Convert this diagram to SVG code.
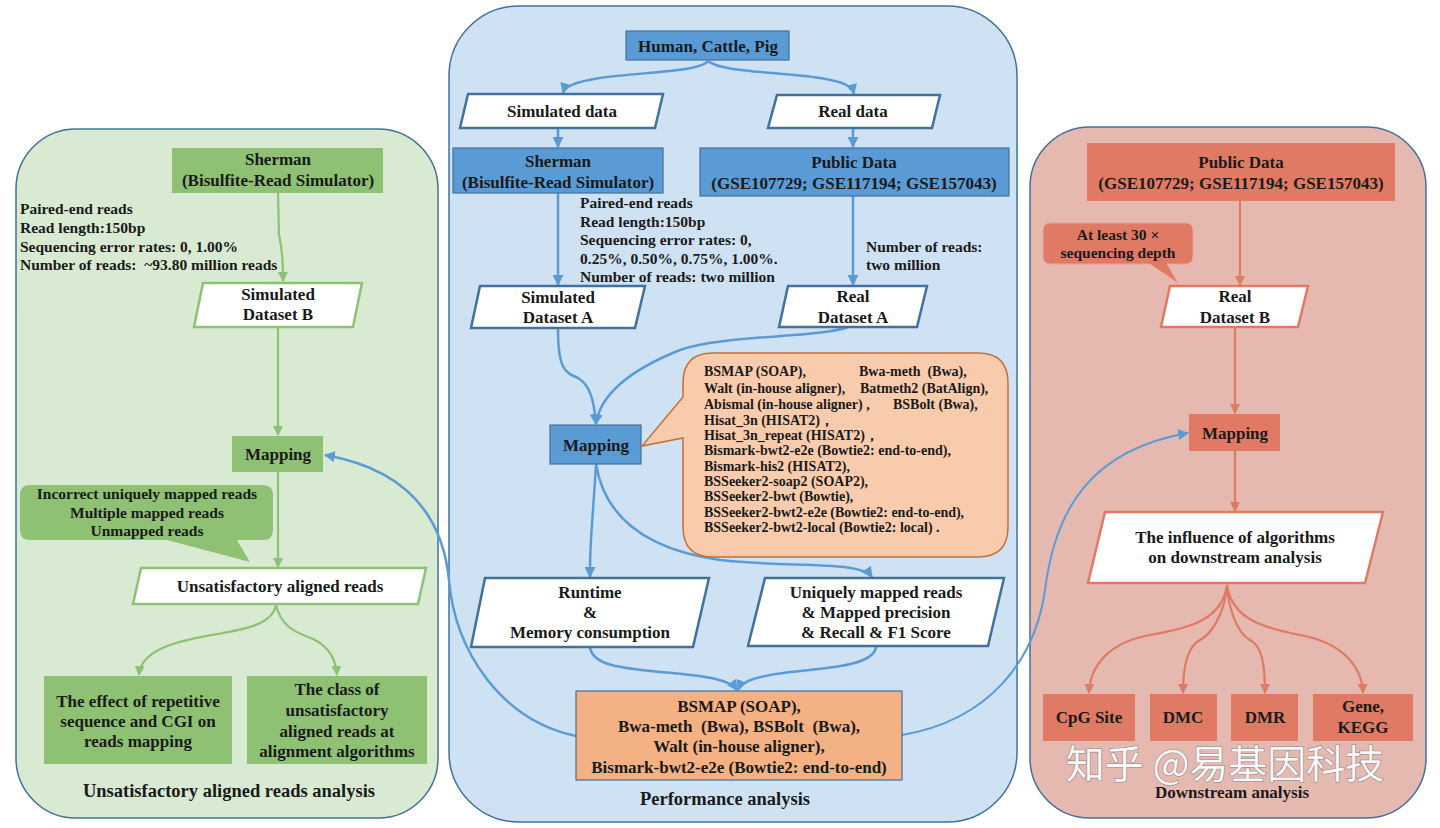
<svg xmlns="http://www.w3.org/2000/svg" width="1440" height="828" viewBox="0 0 1440 828">
<defs>
<marker id="ag" viewBox="0 0 10 10" refX="9" refY="5" markerWidth="10" markerHeight="10" markerUnits="userSpaceOnUse" orient="auto"><path d="M0,0 L10,5 L0,10 z" fill="#8fc175"/></marker>
<marker id="ab" viewBox="0 0 10 10" refX="9" refY="5" markerWidth="11" markerHeight="11" markerUnits="userSpaceOnUse" orient="auto"><path d="M0,0 L10,5 L0,10 z" fill="#5b9bd5"/></marker>
<marker id="ar" viewBox="0 0 10 10" refX="9" refY="5" markerWidth="10" markerHeight="10" markerUnits="userSpaceOnUse" orient="auto"><path d="M0,0 L10,5 L0,10 z" fill="#e07a64"/></marker>
</defs>
<style>
text{font-family:"Liberation Serif","Times New Roman",serif;font-weight:bold;fill:#1a1a1a;}
.t16{font-size:17px;text-anchor:middle;}
.t15{font-size:17px;text-anchor:middle;}
.ttl{font-size:18.5px;text-anchor:middle;}
.t13{font-size:14px;}
.nt{font-size:15.5px;}
.panel{stroke:#41719c;stroke-width:1.5;}
.gn{fill:#8fc175;}
.gp{fill:#fff;stroke:#8fc175;stroke-width:2.5;}
.bn{fill:#5b9bd5;stroke:#41719c;stroke-width:1.2;}
.bp{fill:#fff;stroke:#41719c;stroke-width:2.5;}
.rn{fill:#e07a64;}
.rp{fill:#fff;stroke:#e07a64;stroke-width:2.5;}
.lg{fill:none;stroke:#8fc175;stroke-width:2.2;marker-end:url(#ag);}
.lb{fill:none;stroke:#5b9bd5;stroke-width:2.5;marker-end:url(#ab);}
.lr{fill:none;stroke:#e07a64;stroke-width:2.2;marker-end:url(#ar);}
</style>

<g id="panel-left"><rect class="panel" x="16" y="129" width="422" height="689" rx="60" fill="#d9ead3"/>
<text class="ttl" x="229" y="797">Unsatisfactory aligned reads analysis</text></g>
<g id="panel-middle"><rect class="panel" x="449" y="6" width="568" height="816" rx="70" fill="#cfe2f3"/>
<text class="ttl" x="725" y="805">Performance analysis</text></g>
<g id="panel-right"><rect class="panel" x="1030" y="127" width="396" height="691" rx="60" fill="#e6b9b0"/>
<text class="t16" x="1232" y="798">Downstream analysis</text></g>

<g id="connectors">
<path class="lg" d="M278,193 L279,235 C281,245 283,250 283,281"/>
<path class="lg" d="M278,327 L278,435"/>
<path class="lg" d="M278,472 L278,567"/>
<path class="lg" d="M276,605 C270,635 210,630 170,645 C150,652 140,662 139,675"/>
<path class="lg" d="M276,605 C282,630 300,633 315,640 C330,648 336,660 337,675"/>
<path class="lb" d="M708,61 C700,72 640,72 600,78 C575,82 565,86 563,93"/>
<path class="lb" d="M708,61 C720,72 780,72 820,78 C845,82 852,86 854,94"/>
<path class="lb" d="M558,128 L558,147"/>
<path class="lb" d="M853,128 L853,147"/>
<path class="lb" d="M558,193 L558,285"/>
<path class="lb" d="M853,196 L853,285"/>
<path class="lb" d="M558,328 C558,370 565,372 578,378 C590,385 594,400 596,424"/>
<path class="lb" d="M848,327 C820,338 720,335 680,350 C630,370 600,395 596,424"/>
<path class="lb" d="M596,464 C594,500 592,520 591,540 C590,555 590,565 590,577"/>
<path class="lb" d="M596,464 C605,520 650,550 720,560 C790,568 860,560 872,577"/>
<path class="lb" d="M590,647 C592,665 620,668 660,672 C710,676 730,680 737,690"/>
<path class="lb" d="M876,647 C874,665 830,668 790,672 C760,676 742,680 738,690"/>
<path class="lb" d="M576,736 C500,720 455,650 449,580 C443,520 410,470 325,455"/>
<path class="lb" d="M902,735 C990,720 1035,660 1045,590 C1055,510 1090,450 1188,433" style="stroke-width:2"/>
<path class="lr" d="M1240,201 L1240,285"/>
<path class="lr" d="M1235,327 L1235,413"/>
<path class="lr" d="M1235,451 L1235,511"/>
<path class="lr" d="M1227,585 C1222,620 1190,628 1150,635 C1110,642 1090,665 1089,693"/>
<path class="lr" d="M1227,585 C1225,615 1210,635 1200,640 C1188,646 1183,665 1183,693"/>
<path class="lr" d="M1227,585 C1229,615 1240,635 1250,640 C1262,646 1265,665 1265,693"/>
<path class="lr" d="M1227,585 C1232,620 1265,628 1300,635 C1340,642 1362,665 1363,693"/>
</g>

<g id="sherman-b"><rect class="gn" x="172" y="148" width="211" height="45"/>
<text class="t15" x="278" y="165">Sherman</text><text class="t15" x="278" y="186">(Bisulfite-Read Simulator)</text></g>
<g id="notes-b"><text class="nt" x="20" y="214">Paired-end reads</text><text class="nt" x="20" y="233">Read length:150bp</text><text class="nt" x="20" y="252">Sequencing error rates: 0, 1.00%</text><text class="nt" x="20" y="270" xml:space="preserve">Number of reads:  ~93.80 million reads</text></g>
<g id="sim-dataset-b"><polygon class="gp" points="203,283 362,283 353,327 194,327"/>
<text class="t16" x="278" y="300">Simulated</text><text class="t16" x="278" y="320">Dataset B</text></g>
<g id="mapping-b"><rect class="gn" x="232" y="436" width="91" height="36"/>
<text class="t16" x="278" y="460">Mapping</text></g>
<g id="callout-b"><path class="gn" d="M30,485 H263 Q273,485 273,495 V530 Q273,540 263,540 H237 L250,562 L167,540 H30 Q20,540 20,530 V495 Q20,485 30,485 Z"/>
<text class="nt" x="147" y="499" style="text-anchor:middle">Incorrect uniquely mapped reads</text><text class="nt" x="147" y="518" style="text-anchor:middle">Multiple mapped reads</text><text class="nt" x="147" y="536" style="text-anchor:middle">Unmapped reads</text></g>
<g id="unsatisfactory"><polygon class="gp" points="141,568 426,568 418,604 133,604"/>
<text class="t16" x="280" y="592">Unsatisfactory aligned reads</text></g>
<g id="effect"><rect class="gn" x="44" y="676" width="188" height="88"/>
<text class="t16" x="138" y="707">The effect of repetitive</text><text class="t16" x="138" y="727">sequence and CGI on</text><text class="t16" x="138" y="747">reads mapping</text></g>
<g id="class"><rect class="gn" x="247" y="676" width="180" height="88"/>
<text class="t16" x="337" y="695">The class of</text><text class="t16" x="337" y="716">unsatisfactory</text><text class="t16" x="337" y="737">aligned reads at</text><text class="t16" x="337" y="757">alignment algorithms</text></g>

<g id="species"><rect class="bn" x="626" y="31" width="163" height="29"/>
<text class="t15" x="708" y="52">Human, Cattle, Pig</text></g>
<g id="simulated-data"><polygon class="bp" points="468,94 663,94 655,128 460,128"/>
<text class="t15" x="562" y="117">Simulated data</text></g>
<g id="real-data"><polygon class="bp" points="777,95 940,95 932,128 768,128"/>
<text class="t15" x="853" y="117">Real data</text></g>
<g id="sherman-a"><rect class="bn" x="453" y="148" width="210" height="45"/>
<text class="t15" x="558" y="167">Sherman</text><text class="t15" x="558" y="188">(Bisulfite-Read Simulator)</text></g>
<g id="public-a"><rect class="bn" x="700" y="148" width="309" height="48"/>
<text class="t15" x="854" y="168">Public Data</text><text class="t15" x="854" y="189">(GSE107729; GSE117194; GSE157043)</text></g>
<g id="notes-a"><text class="nt" x="580" y="208">Paired-end reads</text><text class="nt" x="580" y="227">Read length:150bp</text><text class="nt" x="580" y="245">Sequencing error rates: 0,</text><text class="nt" x="580" y="264">0.25%, 0.50%, 0.75%, 1.00%.</text><text class="nt" x="580" y="282">Number of reads: two million</text></g>
<g id="notes-real-a"><text class="nt" x="866" y="252">Number of reads:</text><text class="nt" x="866" y="270">two million</text></g>
<g id="sim-dataset-a"><polygon class="bp" points="480,286 645,286 635,328 471,328"/>
<text class="t15" x="558" y="303">Simulated</text><text class="t15" x="558" y="323">Dataset A</text></g>
<g id="real-dataset-a"><polygon class="bp" points="788,286 927,286 917,327 779,327"/>
<text class="t15" x="853" y="302">Real</text><text class="t15" x="853" y="323">Dataset A</text></g>
<g id="mapping-a"><rect class="bn" x="550" y="425" width="91" height="39"/>
<text class="t16" x="596" y="451">Mapping</text></g>
<g id="aligners-callout"><path d="M713,353 H978 Q1008,353 1008,383 V527 Q1008,557 978,557 H713 Q683,557 683,527 V438 L642,446 L683,397 V383 Q683,353 713,353 Z" fill="#f8cbad" stroke="#c5703a" stroke-width="1.5"/>
<text class="t13" x="704" y="376">BSMAP (SOAP),</text><text class="t13" x="859" y="376" xml:space="preserve">Bwa-meth  (Bwa),</text>
<text class="t13" x="704" y="393">Walt (in-house aligner),</text><text class="t13" x="860" y="393">Batmeth2 (BatAlign),</text>
<text class="t13" x="704" y="409">Abismal (in-house aligner) ,</text><text class="t13" x="893" y="409">BSBolt (Bwa),</text>
<text class="t13" x="704" y="425">Hisat_3n (HISAT2)，</text>
<text class="t13" x="704" y="440">Hisat_3n_repeat (HISAT2)，</text>
<text class="t13" x="704" y="455">Bismark-bwt2-e2e (Bowtie2: end-to-end),</text>
<text class="t13" x="704" y="471">Bismark-his2 (HISAT2),</text>
<text class="t13" x="704" y="486">BSSeeker2-soap2 (SOAP2),</text>
<text class="t13" x="704" y="501">BSSeeker2-bwt (Bowtie),</text>
<text class="t13" x="704" y="517">BSSeeker2-bwt2-e2e (Bowtie2: end-to-end),</text>
<text class="t13" x="704" y="532">BSSeeker2-bwt2-local (Bowtie2: local) .</text></g>
<g id="runtime"><polygon class="bp" points="485,578 709,578 693,647 471,647"/>
<text class="t16" x="590" y="598">Runtime</text><text class="t16" x="590" y="618">&amp;</text><text class="t16" x="590" y="638">Memory consumption</text></g>
<g id="uniquely"><polygon class="bp" points="765,578 1004,578 988,646 748,646"/>
<text class="t16" x="876" y="598">Uniquely mapped reads</text><text class="t16" x="876" y="618">&amp; Mapped precision</text><text class="t16" x="876" y="638">&amp; Recall &amp; F1 Score</text></g>
<g id="best-aligners"><rect x="576" y="691" width="326" height="89" fill="#f4b183" stroke="#41719c" stroke-width="1.2"/>
<text class="t16" x="739" y="712">BSMAP (SOAP),</text><text class="t16" x="739" y="732" xml:space="preserve">Bwa-meth  (Bwa), BSBolt  (Bwa),</text><text class="t16" x="739" y="752">Walt (in-house aligner),</text><text class="t16" x="739" y="773">Bismark-bwt2-e2e (Bowtie2: end-to-end)</text></g>

<g id="public-b"><rect class="rn" x="1087" y="143" width="308" height="58"/>
<text class="t15" x="1241" y="168">Public Data</text><text class="t15" x="1241" y="189">(GSE107729; GSE117194; GSE157043)</text></g>
<g id="depth-callout"><path class="rn" d="M1051,223 H1185 Q1193,223 1193,231 V256 Q1193,264 1185,264 H1167 L1178,283 L1150,264 H1051 Q1043,264 1043,256 V231 Q1043,223 1051,223 Z" stroke="#f0a090" stroke-width="1"/>
<text class="nt" x="1118" y="240" style="text-anchor:middle">At least 30 ×</text><text class="nt" x="1118" y="258" style="text-anchor:middle">sequencing depth</text></g>
<g id="real-dataset-b"><polygon class="rp" points="1170,286 1308,286 1298,327 1161,327"/>
<text class="t16" x="1235" y="302">Real</text><text class="t16" x="1235" y="323">Dataset B</text></g>
<g id="mapping-r"><rect class="rn" x="1189" y="414" width="91" height="37"/>
<text class="t16" x="1235" y="439">Mapping</text></g>
<g id="influence"><polygon class="rp" points="1105,512 1383,512 1365,583 1088,583"/>
<text class="t15" x="1235" y="543">The influence of algorithms</text><text class="t15" x="1235" y="563">on downstream analysis</text></g>
<g id="cpg"><rect class="rn" x="1043" y="694" width="92" height="47"/><text class="t15" x="1089" y="723">CpG Site</text></g>
<g id="dmc"><rect class="rn" x="1150" y="694" width="67" height="47"/><text class="t15" x="1183" y="723">DMC</text></g>
<g id="dmr"><rect class="rn" x="1231" y="694" width="67" height="47"/><text class="t15" x="1265" y="723">DMR</text></g>
<g id="gene"><rect class="rn" x="1313" y="694" width="100" height="47"/><text class="t15" x="1363" y="712">Gene,</text><text class="t15" x="1363" y="733">KEGG</text></g>

<g id="watermark"><text x="1225" y="778" style="font-family:'Noto Sans CJK SC','Noto Sans',sans-serif;font-weight:normal;font-size:39px;text-anchor:middle;fill:#ffffff;fill-opacity:0.92;stroke:#8a8a8a;stroke-width:1.2;paint-order:stroke">知乎 @易基因科技</text></g>
</svg>
